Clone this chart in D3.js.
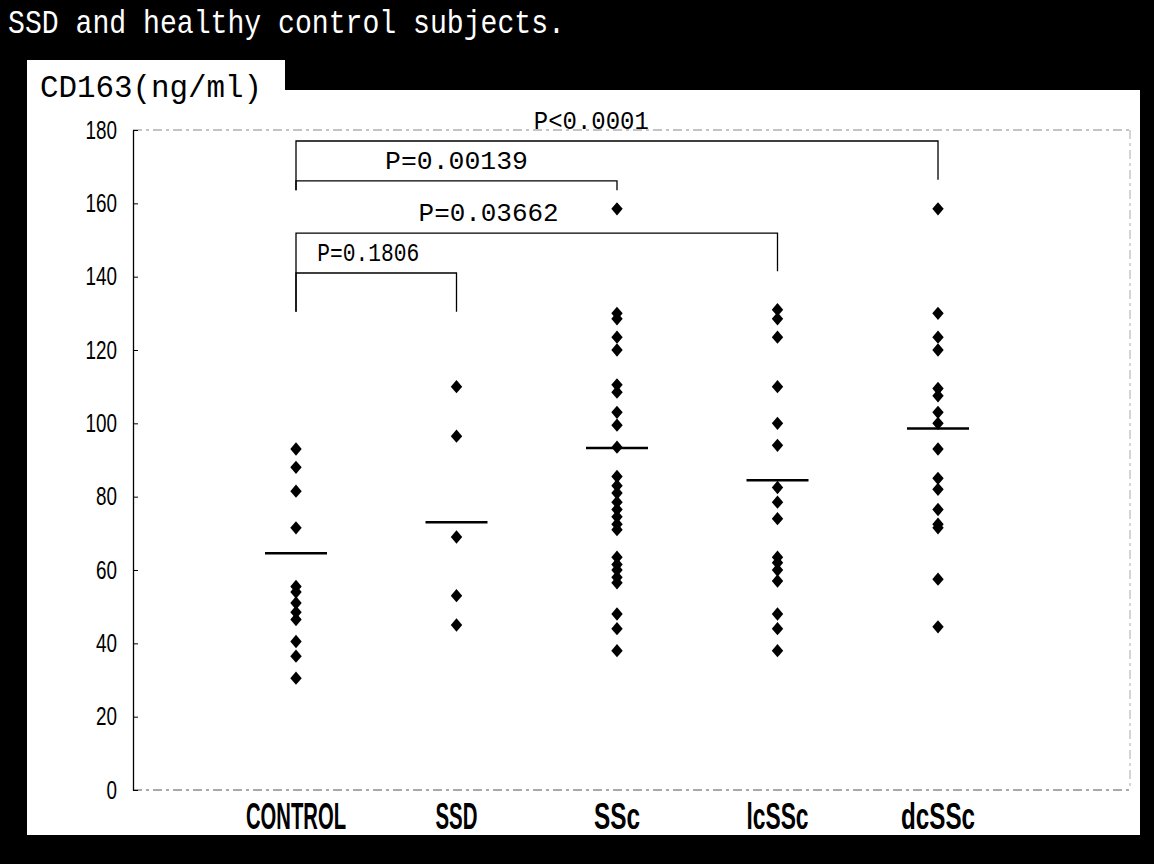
<!DOCTYPE html>
<html>
<head>
<meta charset="utf-8">
<script src="https://cdn.jsdelivr.net/npm/d3@7"></script>
<style>
  html, body { margin: 0; padding: 0; background: #000; }
  svg { display: block; }
</style>
</head>
<body>
<svg id="chart" width="1154" height="864"></svg>
<script>
// Serum CD163 levels per group (ng/ml)
const categories = ["CONTROL", "SSD", "SSc", "lcSSc", "dcSSc"];
const controlValues = [93, 88, 81.5, 71.5, 55.5, 54, 51, 48.5, 46.5, 40.5, 36.5, 30.5];
const ssdValues = [110, 96.5, 69, 53, 45];
const sscValues = [158.5, 130, 128.5, 123.5, 120, 110.5, 108.5, 103, 99.5, 93.5, 85.5, 83, 81,
                   78.5, 76.5, 74.5, 72.5, 71, 63.5, 61.5, 60, 58, 56.5, 48, 44, 38];
const lcsscValues = [131, 128.5, 123.5, 110, 100, 94, 82.5, 78.5, 74, 63.5, 62, 60, 57, 48, 44, 38];
const dcsscValues = [158.5, 130, 123.5, 120, 109.5, 107.5, 103, 100, 93, 85, 82, 76.5, 72.5, 71.5, 57.5, 44.5];
const groupMeans = [64.6, 73, 93.3, 84.5, 98.6];

// y-axis ticks
const yTicks = [0, 20, 40, 60, 80, 100, 120, 140, 160, 180];

// Significance brackets: compared groups, bracket heights (ng/ml) and p-values
const bracketFrom = ["CONTROL", "CONTROL", "CONTROL", "CONTROL"];
const bracketTo = ["dcSSc", "SSc", "lcSSc", "SSD"];
const bracketTop = [177, 166.1, 151.9, 141];
const bracketLeftEnd = [163.6, 163.6, 130.4, 130.4];
const bracketRightEnd = [166.4, 163.6, 141.5, 130.4];
const pLabels = ["P<0.0001", "P=0.00139", "P=0.03662", "P=0.1806"];

const valuesByGroup = [controlValues, ssdValues, sscValues, lcsscValues, dcsscValues];
const points = [];
categories.forEach((c, i) => valuesByGroup[i].forEach(v => points.push({ group: c, value: v })));
const brackets = pLabels.map((p, i) => ({
  from: bracketFrom[i], to: bracketTo[i], top: bracketTop[i],
  leftEnd: bracketLeftEnd[i], rightEnd: bracketRightEnd[i], label: p
}));

// ---- layout ----
const plot = { left: 133, right: 1130, top: 130, bottom: 790 };
const labelAt = [0.46, 0.5, 0.4, 0.45];         // label position along each bracket
const labelWidths = [115, 143, 140, 102];
const catWidths = { CONTROL: 100, SSD: 42, SSc: 46, lcSSc: 62, dcSSc: 74 };
const monoFont = "'Liberation Mono', 'DejaVu Sans Mono', monospace";
const sansFont = "'Liberation Sans', Arial, sans-serif";

const svg = d3.select("#chart");

svg.append("rect").attr("width", 1154).attr("height", 864).attr("fill", "#000");

// title
svg.append("text")
  .attr("x", 8).attr("y", 33)
  .attr("fill", "#fff")
  .attr("font-family", monoFont).attr("font-size", 33)
  .attr("textLength", 557).attr("lengthAdjust", "spacingAndGlyphs")
  .text("SSD and healthy control subjects.");

// white panel with the unit tab
svg.append("rect").attr("x", 27).attr("y", 60).attr("width", 258).attr("height", 40).attr("fill", "#fff");
svg.append("rect").attr("x", 27).attr("y", 90).attr("width", 1113).attr("height", 745).attr("fill", "#fff");

svg.append("text")
  .attr("x", 40).attr("y", 97)
  .attr("fill", "#000")
  .attr("font-family", monoFont).attr("font-size", 32)
  .attr("textLength", 222).attr("lengthAdjust", "spacingAndGlyphs")
  .text("CD163(ng/ml)");

// scales
const y = d3.scaleLinear().domain([0, 180]).range([plot.bottom, plot.top]);
const x = d3.scalePoint().domain(categories).range([296, 938]);

// plot frame: dashed top/right/bottom
const frame = svg.append("g").attr("fill", "none");
frame.append("line")
  .attr("x1", plot.left).attr("x2", plot.right).attr("y1", plot.top).attr("y2", plot.top)
  .attr("stroke", "#888").attr("stroke-width", 1).attr("stroke-dasharray", "9,4,3,4");
frame.append("line")
  .attr("x1", plot.right).attr("x2", plot.right).attr("y1", plot.top).attr("y2", plot.bottom)
  .attr("stroke", "#aaa").attr("stroke-width", 1).attr("stroke-dasharray", "9,4,3,4");
frame.append("line")
  .attr("x1", plot.left).attr("x2", plot.right).attr("y1", plot.bottom).attr("y2", plot.bottom)
  .attr("stroke", "#555").attr("stroke-width", 1.2).attr("stroke-dasharray", "9,4,3,4");

// y axis
const yAxis = d3.axisLeft(y).tickValues(yTicks).tickSizeInner(-5).tickSizeOuter(0).tickPadding(16);
const gy = svg.append("g").attr("transform", `translate(${plot.left},0)`).call(yAxis);
gy.select(".domain").attr("stroke", "#000").attr("stroke-width", 1.3);
gy.selectAll(".tick line").attr("stroke", "#000").attr("stroke-width", 1);
gy.selectAll(".tick text")
  .attr("fill", "#000")
  .attr("font-family", sansFont).attr("font-size", 25)
  .each(function (d) {
    d3.select(this).attr("textLength", String(d).length * 10.5).attr("lengthAdjust", "spacingAndGlyphs");
  });

// category labels
svg.append("g").selectAll("text").data(categories).join("text")
  .attr("x", d => x(d)).attr("y", 829)
  .attr("text-anchor", "middle")
  .attr("fill", "#000")
  .attr("font-family", sansFont).attr("font-weight", "bold").attr("font-size", 37)
  .attr("textLength", d => catWidths[d]).attr("lengthAdjust", "spacingAndGlyphs")
  .text(d => d);

// significance brackets
const gb = svg.append("g").attr("fill", "none").attr("stroke", "#000").attr("stroke-width", 1.3);
gb.selectAll("path").data(brackets).join("path")
  .attr("d", b => {
    const x0 = x(b.from), x1 = x(b.to);
    return `M${x0},${y(b.leftEnd)}V${y(b.top)}H${x1}V${y(b.rightEnd)}`;
  });
svg.append("g").selectAll("text").data(brackets).join("text")
  .attr("x", (b, i) => x(b.from) + (x(b.to) - x(b.from)) * labelAt[i])
  .attr("y", b => y(b.top) - 12)
  .attr("text-anchor", "middle")
  .attr("fill", "#000")
  .attr("font-family", monoFont).attr("font-size", 25)
  .attr("textLength", (b, i) => labelWidths[i]).attr("lengthAdjust", "spacingAndGlyphs")
  .text(b => b.label);

// individual values
const diamond = {
  draw(ctx, size) {
    const h = Math.sqrt(size) * 0.75, w = h * 0.85;
    ctx.moveTo(0, -h); ctx.lineTo(w, 0); ctx.lineTo(0, h); ctx.lineTo(-w, 0); ctx.closePath();
  }
};
svg.append("g").selectAll("path").data(points).join("path")
  .attr("transform", d => `translate(${x(d.group)},${y(d.value)})`)
  .attr("d", d3.symbol().type(diamond).size(80))
  .attr("fill", "#000");

// group means
svg.append("g").selectAll("line").data(categories).join("line")
  .attr("x1", d => x(d) - 31).attr("x2", d => x(d) + 31)
  .attr("y1", (d, i) => y(groupMeans[i])).attr("y2", (d, i) => y(groupMeans[i]))
  .attr("stroke", "#000").attr("stroke-width", 2.5);
</script>
</body>
</html>
